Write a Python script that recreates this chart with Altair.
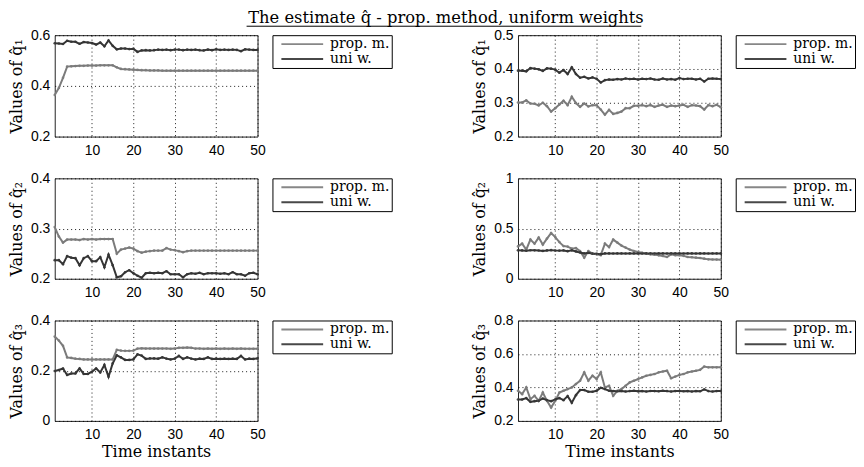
import altair as alt
import pandas as pd

t = list(range(1, 51))
series_names = ["prop. m.", "uni w."]
series_colors = ["#7b7b7b", "#353535"]

# q1, left panel
q1_left_prop = [0.364, 0.392, 0.432, 0.476, 0.477, 0.478, 0.479, 0.479, 0.480, 0.480,
                0.480, 0.481, 0.481, 0.481, 0.481, 0.473, 0.467, 0.466, 0.465, 0.464,
                0.463, 0.462, 0.462, 0.461, 0.461, 0.461, 0.460, 0.460, 0.460, 0.460,
                0.460, 0.460, 0.460, 0.460, 0.460, 0.460, 0.460, 0.460, 0.460, 0.460,
                0.460, 0.460, 0.460, 0.460, 0.460, 0.460, 0.460, 0.460, 0.460, 0.460]
q1_left_uni = [0.568, 0.567, 0.565, 0.578, 0.574, 0.574, 0.566, 0.573, 0.571, 0.569,
               0.563, 0.571, 0.556, 0.579, 0.558, 0.544, 0.547, 0.547, 0.545, 0.546,
               0.534, 0.540, 0.541, 0.540, 0.541, 0.543, 0.542, 0.543, 0.541, 0.543,
               0.543, 0.541, 0.543, 0.542, 0.543, 0.541, 0.540, 0.543, 0.541, 0.544,
               0.542, 0.543, 0.542, 0.543, 0.542, 0.537, 0.544, 0.543, 0.542, 0.542]

# q1, right panel
q1_right_prop = [0.301, 0.301, 0.307, 0.298, 0.297, 0.292, 0.300, 0.290, 0.274, 0.284,
                 0.295, 0.306, 0.293, 0.318, 0.299, 0.288, 0.298, 0.289, 0.293, 0.293,
                 0.280, 0.265, 0.279, 0.267, 0.270, 0.274, 0.284, 0.284, 0.291, 0.291,
                 0.293, 0.290, 0.293, 0.288, 0.292, 0.294, 0.288, 0.292, 0.290, 0.292,
                 0.294, 0.288, 0.293, 0.292, 0.290, 0.280, 0.293, 0.290, 0.294, 0.287]
q1_right_uni = [0.395, 0.395, 0.393, 0.403, 0.401, 0.399, 0.394, 0.402, 0.401, 0.398,
                0.389, 0.397, 0.385, 0.405, 0.385, 0.374, 0.377, 0.372, 0.375, 0.371,
                0.360, 0.367, 0.369, 0.368, 0.370, 0.369, 0.372, 0.370, 0.371, 0.369,
                0.371, 0.370, 0.372, 0.369, 0.368, 0.372, 0.369, 0.370, 0.368, 0.373,
                0.370, 0.371, 0.371, 0.369, 0.371, 0.363, 0.371, 0.372, 0.371, 0.370]

# q2, left panel
q2_left_prop = [0.303, 0.284, 0.272, 0.278, 0.278, 0.278, 0.277, 0.279, 0.278, 0.279,
                0.278, 0.279, 0.279, 0.279, 0.279, 0.250, 0.258, 0.260, 0.262, 0.260,
                0.255, 0.252, 0.254, 0.255, 0.256, 0.256, 0.256, 0.261, 0.258, 0.257,
                0.255, 0.253, 0.255, 0.256, 0.256, 0.256, 0.256, 0.256, 0.256, 0.256,
                0.256, 0.256, 0.256, 0.256, 0.256, 0.256, 0.256, 0.256, 0.256, 0.256]
q2_left_uni = [0.237, 0.237, 0.229, 0.245, 0.242, 0.241, 0.227, 0.241, 0.245, 0.235,
               0.235, 0.243, 0.223, 0.248, 0.227, 0.203, 0.205, 0.213, 0.217, 0.211,
               0.206, 0.202, 0.211, 0.212, 0.211, 0.212, 0.211, 0.215, 0.209, 0.209,
               0.209, 0.203, 0.209, 0.211, 0.210, 0.212, 0.209, 0.211, 0.211, 0.211,
               0.210, 0.211, 0.209, 0.213, 0.209, 0.209, 0.206, 0.211, 0.212, 0.209]

# q2, right panel
q2_right_prop = [0.322, 0.350, 0.290, 0.390, 0.350, 0.410, 0.340, 0.400, 0.455, 0.415,
                 0.365, 0.325, 0.320, 0.300, 0.305, 0.275, 0.210, 0.275, 0.250, 0.243,
                 0.235, 0.350, 0.315, 0.390, 0.360, 0.330, 0.310, 0.290, 0.276, 0.266,
                 0.258, 0.250, 0.243, 0.240, 0.233, 0.226, 0.216, 0.243, 0.235, 0.235,
                 0.228, 0.216, 0.214, 0.210, 0.206, 0.200, 0.193, 0.192, 0.191, 0.190]
q2_right_uni = [0.283, 0.282, 0.279, 0.284, 0.283, 0.281, 0.277, 0.282, 0.285, 0.281,
                0.280, 0.282, 0.275, 0.283, 0.272, 0.262, 0.252, 0.258, 0.250, 0.249,
                0.245, 0.252, 0.252, 0.251, 0.252, 0.252, 0.251, 0.252, 0.252, 0.252,
                0.251, 0.252, 0.252, 0.251, 0.252, 0.252, 0.251, 0.252, 0.252, 0.252,
                0.251, 0.252, 0.252, 0.251, 0.252, 0.252, 0.251, 0.252, 0.252, 0.252]

# q3, left panel
q3_left_prop = [0.336, 0.320, 0.299, 0.253, 0.251, 0.248, 0.247, 0.245, 0.245, 0.245,
                0.245, 0.245, 0.245, 0.245, 0.245, 0.283, 0.280, 0.279, 0.279, 0.280,
                0.288, 0.289, 0.288, 0.288, 0.288, 0.288, 0.288, 0.288, 0.287, 0.288,
                0.291, 0.291, 0.292, 0.291, 0.288, 0.288, 0.287, 0.288, 0.287, 0.288,
                0.287, 0.288, 0.287, 0.288, 0.287, 0.288, 0.287, 0.287, 0.287, 0.287]
q3_left_uni = [0.199, 0.203, 0.209, 0.183, 0.189, 0.189, 0.209, 0.187, 0.187, 0.196,
               0.209, 0.193, 0.223, 0.176, 0.229, 0.261, 0.253, 0.243, 0.243, 0.245,
               0.265, 0.260, 0.247, 0.249, 0.249, 0.248, 0.253, 0.248, 0.245, 0.248,
               0.259, 0.247, 0.253, 0.248, 0.245, 0.248, 0.247, 0.253, 0.247, 0.248,
               0.247, 0.248, 0.247, 0.248, 0.247, 0.259, 0.245, 0.248, 0.247, 0.249]

# q3, right panel
q3_right_prop = [0.380, 0.360, 0.400, 0.330, 0.350, 0.320, 0.370, 0.320, 0.280, 0.320,
                 0.370, 0.380, 0.390, 0.400, 0.420, 0.440, 0.490, 0.440, 0.470, 0.450,
                 0.490, 0.400, 0.410, 0.350, 0.380, 0.390, 0.410, 0.430, 0.440, 0.450,
                 0.460, 0.470, 0.475, 0.480, 0.490, 0.495, 0.500, 0.455, 0.465, 0.475,
                 0.480, 0.490, 0.495, 0.500, 0.505, 0.525, 0.520, 0.520, 0.520, 0.520]
q3_right_uni = [0.328, 0.328, 0.336, 0.314, 0.318, 0.320, 0.334, 0.324, 0.318, 0.328,
                0.336, 0.324, 0.348, 0.308, 0.354, 0.384, 0.384, 0.374, 0.374, 0.380,
                0.398, 0.390, 0.380, 0.378, 0.377, 0.379, 0.376, 0.378, 0.380, 0.377,
                0.378, 0.376, 0.379, 0.378, 0.377, 0.380, 0.378, 0.376, 0.378, 0.379,
                0.377, 0.378, 0.376, 0.378, 0.377, 0.388, 0.378, 0.376, 0.378, 0.379]

x_ticks = [10, 20, 30, 40, 50]
title_text = "The estimate q\u0302 - prop. method, uniform weights"
x_title = "Time instants"

SERIF = "DejaVu Serif"
SANS = "Liberation Sans"


def panel(prop, uni, ylabel, domain, yticks, show_xtitle, width, height, underline=False):
    df = pd.DataFrame({
        "t": t + t,
        "v": prop + uni,
        "s": [series_names[0]] * len(prop) + [series_names[1]] * len(uni),
    })
    xaxis_kw = dict(values=x_ticks, labelPadding=7, labelFlush=False)
    if show_xtitle:
        xaxis_kw["title"] = x_title
        xaxis_kw["titlePadding"] = 2
    else:
        xaxis_kw["title"] = None
    lines = alt.Chart(df).mark_line(
        strokeWidth=2,
        point=alt.OverlayMarkDef(size=7, filled=True, opacity=0.9),
    ).encode(
        x=alt.X("t:Q", scale=alt.Scale(domain=[1, 50], nice=False, zero=False),
                axis=alt.Axis(**xaxis_kw)),
        y=alt.Y("v:Q", scale=alt.Scale(domain=domain, nice=False, zero=False),
                axis=alt.Axis(values=yticks, format="~g", title=ylabel,
                              labelPadding=5, titlePadding=6, labelFlush=False)),
        color=alt.Color("s:N",
                        scale=alt.Scale(domain=series_names, range=series_colors),
                        legend=alt.Legend(
                            title=None, orient="none", legendX=219, legendY=0,
                            strokeColor="#000", fillColor="#fff", padding=2,
                            symbolType="stroke", symbolSize=1764, symbolStrokeWidth=2,
                            symbolOffset=6, labelOffset=6, clipHeight=14, rowPadding=1,
                            labelFont=SERIF, labelFontSize=14, labelColor="#000",
                        )),
    ).properties(width=width, height=height)
    if underline:
        rule = alt.Chart(pd.DataFrame({"a": [0]})).mark_rule(
            color="#000", strokeWidth=1, clip=False
        ).encode(x=alt.value(193), x2=alt.value(590), y=alt.value(-9))
        return alt.layer(lines, rule)
    return lines


W = 204
pA = panel(q1_left_prop, q1_left_uni, "Values of q\u0302\u2081", [0.2, 0.6], [0.2, 0.4, 0.6], False, W, 102, underline=True)
pB = panel(q1_right_prop, q1_right_uni, "Values of q\u0302\u2081", [0.2, 0.5], [0.2, 0.3, 0.4, 0.5], False, W, 102)
pC = panel(q2_left_prop, q2_left_uni, "Values of q\u0302\u2082", [0.2, 0.4], [0.2, 0.3, 0.4], False, W, 101)
pD = panel(q2_right_prop, q2_right_uni, "Values of q\u0302\u2082", [0, 1], [0, 0.5, 1], False, W, 101)
pE = panel(q3_left_prop, q3_left_uni, "Values of q\u0302\u2083", [0, 0.4], [0, 0.2, 0.4], True, W, 101)
pF = panel(q3_right_prop, q3_right_uni, "Values of q\u0302\u2083", [0.2, 0.8], [0.2, 0.4, 0.6, 0.8], True, W, 101)

chart = alt.concat(
    pA, pB, pC, pD, pE, pF, columns=2,
    spacing=alt.RowColnumber(row=42, column=262), bounds="flush",
).resolve_scale(
    color="independent"
).properties(
    title=alt.TitleParams(title_text, font=SERIF, fontSize=16.4, fontWeight="normal",
                          color="#000", anchor="middle", offset=-1, dx=14),
    padding=0,
).configure_view(
    stroke="#222", strokeWidth=1
).configure_axis(
    grid=True, gridColor="#000", gridDash=[1, 3], gridWidth=1, gridOpacity=0.9,
    domain=False, ticks=False,
    labelFont=SANS, labelFontSize=14, labelColor="#000",
    titleFont=SERIF, titleFontSize=16, titleFontWeight="normal", titleColor="#000",
)

chart.save("out.html", embed_options={"renderer": "svg", "actions": False})
